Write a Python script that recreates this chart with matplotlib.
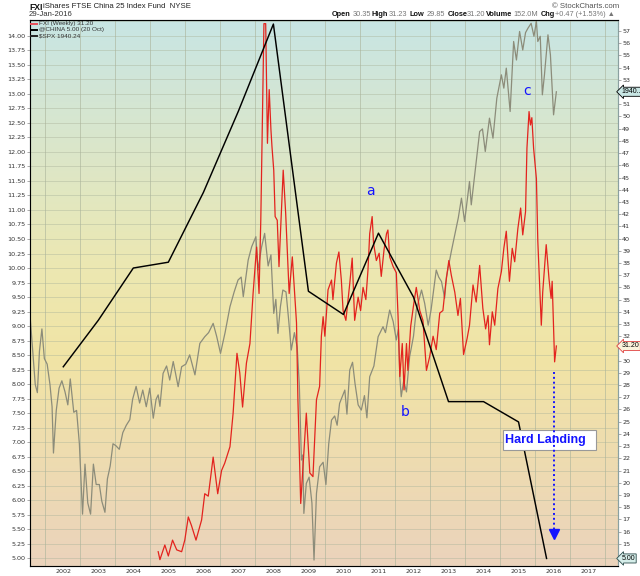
import numpy as np
import matplotlib
matplotlib.use("Agg")
import matplotlib.pyplot as plt
from matplotlib.lines import Line2D
from matplotlib.patches import Rectangle

# @CHINA GDP growth (left axis), annual points + last reading (20 Oct 2015)
china_t = [2002.0, 2003.0, 2004.0, 2005.0, 2006.0, 2007.0, 2008.0, 2009.0,
           2010.0, 2011.0, 2012.0, 2013.0, 2014.0, 2015.0, 2015.8]
china_v = [8.3, 9.1, 10.0, 10.1, 11.3, 12.7, 14.2, 9.6,
           9.2, 10.6, 9.5, 7.7, 7.7, 7.35, 5.0]

# FXI weekly (right axis)
fxi_t = [2004.71, 2004.76, 2004.90, 2005.00, 2005.12, 2005.24, 2005.38, 2005.47, 2005.57, 2005.66,
         2005.79, 2005.95, 2006.04, 2006.14, 2006.28, 2006.41, 2006.52, 2006.61, 2006.76, 2006.85,
         2006.96, 2007.04, 2007.12, 2007.23, 2007.33, 2007.42, 2007.52, 2007.59, 2007.64, 2007.73,
         2007.78, 2007.83, 2007.88, 2007.93, 2007.96, 2008.01, 2008.05, 2008.11, 2008.16, 2008.28,
         2008.35, 2008.45, 2008.54, 2008.66, 2008.70, 2008.78, 2008.85, 2008.94, 2009.04, 2009.13,
         2009.23, 2009.32, 2009.37, 2009.42, 2009.47, 2009.56, 2009.66, 2009.70, 2009.80, 2009.87,
         2009.94, 2009.99, 2010.07, 2010.18, 2010.25, 2010.32, 2010.42, 2010.49, 2010.56, 2010.64,
         2010.70, 2010.75, 2010.82, 2010.86, 2010.94, 2011.02, 2011.08, 2011.16, 2011.23, 2011.27,
         2011.32, 2011.42, 2011.51, 2011.56, 2011.61, 2011.68, 2011.73, 2011.80, 2011.84, 2011.92,
         2012.01, 2012.08, 2012.18, 2012.27, 2012.37, 2012.46, 2012.56, 2012.65, 2012.75, 2012.84,
         2012.92, 2013.01, 2013.08, 2013.18, 2013.27, 2013.34, 2013.43, 2013.53, 2013.60, 2013.70,
         2013.79, 2013.89, 2013.98, 2014.06, 2014.13, 2014.17, 2014.25, 2014.32, 2014.41, 2014.51,
         2014.58, 2014.65, 2014.74, 2014.82, 2014.89, 2014.98, 2015.06, 2015.12, 2015.20, 2015.24,
         2015.30, 2015.34, 2015.38, 2015.43, 2015.51, 2015.55, 2015.65, 2015.69, 2015.79, 2015.87,
         2015.93, 2015.96, 2016.03, 2016.08]
fxi_v = [14.35, 13.7, 14.9, 14.0, 15.3, 14.5, 14.35, 15.3, 17.2, 16.5,
         15.3, 16.95, 19.1, 18.9, 22.1, 19.1, 21.0, 21.6, 22.95, 25.7,
         30.6, 29.0, 26.2, 29.8, 31.4, 35.5, 39.3, 35.5, 41.5, 57.6,
         57.6, 47.8, 52.2, 48.9, 47.5, 45.6, 41.8, 41.5, 37.7, 45.6,
         42.1, 35.5, 38.5, 33.1, 26.8, 18.3, 21.6, 25.7, 20.8, 20.5,
         26.8, 27.9, 32.0, 33.6, 32.0, 35.8, 36.6, 35.0, 38.0, 38.9,
         36.6, 34.1, 33.3, 36.3, 38.4, 33.3, 35.2, 34.1, 36.0, 35.0,
         37.4, 40.4, 41.8, 39.6, 38.2, 38.8, 36.9, 39.1, 40.4, 40.7,
         38.5, 37.7, 37.2, 33.6, 28.7, 31.4, 27.6, 31.4, 29.2, 32.8,
         34.7, 36.0, 34.1, 33.3, 29.2, 30.3, 32.0, 30.9, 33.9, 34.1,
         36.3, 38.2, 37.0, 35.6, 33.7, 35.1, 30.5, 31.8, 32.9, 36.2,
         34.8, 37.8, 34.3, 32.6, 33.7, 31.3, 34.0, 32.9, 35.9, 37.3,
         39.2, 40.6, 36.5, 39.2, 38.1, 40.8, 42.5, 40.3, 42.2, 47.4,
         50.4, 49.3, 49.9, 47.4, 44.9, 39.8, 32.9, 35.6, 39.5, 36.7,
         35.1, 36.5, 29.9, 31.2]

# $SPX (own hidden scale)
spx_t = [2001.05, 2001.12, 2001.20, 2001.26, 2001.32, 2001.39, 2001.46, 2001.54, 2001.62, 2001.68, 2001.72, 2001.80, 2001.88, 2001.96,
         2002.05, 2002.13, 2002.20, 2002.30, 2002.38, 2002.46, 2002.55, 2002.62, 2002.70, 2002.78, 2002.86, 2002.94,
         2003.03, 2003.10, 2003.19, 2003.26, 2003.34, 2003.42, 2003.50, 2003.60, 2003.70, 2003.80, 2003.90, 2003.98,
         2004.08, 2004.18, 2004.27, 2004.37, 2004.47, 2004.57, 2004.65, 2004.71, 2004.76, 2004.85, 2004.95,
         2005.04, 2005.14, 2005.28, 2005.38, 2005.50, 2005.61, 2005.76, 2005.90,
         2006.04, 2006.15, 2006.28, 2006.38, 2006.49, 2006.62, 2006.76, 2006.88, 2006.99,
         2007.08, 2007.14, 2007.28, 2007.38, 2007.50, 2007.56, 2007.66, 2007.75, 2007.85, 2007.93,
         2008.01, 2008.07, 2008.13, 2008.20, 2008.27, 2008.36, 2008.44, 2008.51, 2008.60, 2008.68, 2008.74, 2008.80, 2008.84, 2008.87, 2008.94,
         2009.02, 2009.10, 2009.16, 2009.23, 2009.32, 2009.42, 2009.50, 2009.58, 2009.66, 2009.75, 2009.82, 2009.89,
         2010.04, 2010.10, 2010.18, 2010.26, 2010.33, 2010.42, 2010.51, 2010.60, 2010.67, 2010.75, 2010.87, 2010.99,
         2011.13, 2011.20, 2011.32, 2011.42, 2011.51, 2011.57, 2011.61, 2011.65, 2011.72, 2011.80, 2011.89,
         2012.00, 2012.08, 2012.23, 2012.32, 2012.42, 2012.50, 2012.65, 2012.72, 2012.80, 2012.89, 2012.94,
         2013.02, 2013.08, 2013.18, 2013.28, 2013.37, 2013.46, 2013.60, 2013.65, 2013.79, 2013.89, 2013.97,
         2014.05, 2014.17, 2014.27, 2014.38, 2014.51, 2014.58, 2014.65, 2014.76, 2014.86, 2014.94,
         2015.03, 2015.12, 2015.20, 2015.27, 2015.36, 2015.44, 2015.51, 2015.55, 2015.62, 2015.68, 2015.74, 2015.84, 2015.91, 2016.00, 2016.08]
spx_v = [1338, 1250, 1150, 1128, 1240, 1300, 1220, 1205, 1150, 1090, 965, 1080, 1140, 1160,
         1130, 1095, 1165, 1075, 1080, 990, 800, 935, 830, 800, 935, 880,
         880, 835, 805, 895, 930, 990, 985, 975, 1020, 1040, 1055, 1110,
         1145, 1100, 1135, 1090, 1140, 1059, 1110, 1122, 1091, 1180, 1200,
         1162, 1212, 1144, 1198, 1205, 1230, 1176, 1261,
         1279, 1290, 1315, 1280, 1234, 1290, 1360, 1400, 1432,
         1440, 1387, 1486, 1522, 1549, 1459, 1520, 1558, 1470, 1500,
         1342, 1380, 1288, 1360, 1405, 1400, 1320, 1243, 1290, 1250, 1150, 946, 960, 802, 883,
         900, 830, 676, 856, 928, 940, 880, 990, 1054, 1065, 1040, 1099,
         1135, 1070, 1189, 1210, 1153, 1095, 1081, 1120, 1060, 1171, 1200, 1279,
         1306, 1290, 1351, 1320, 1270, 1300, 1171, 1117, 1160, 1130, 1225,
         1280, 1351, 1405, 1369, 1310, 1350, 1459, 1440, 1428, 1383, 1440,
         1480, 1509, 1554, 1600, 1653, 1590, 1698, 1635, 1752, 1833, 1840,
         1779, 1869, 1815, 1923, 1986, 1950, 2004, 1887, 2076, 2026,
         2103, 2053, 2100, 2112, 2125, 2090, 2130, 2076, 2090, 1932, 1986, 2094, 2040, 1878, 1940.24]

years = list(range(2002, 2018))
left_ticks = np.arange(5.0, 14.01, 0.25)
right_ticks = list(range(14, 58))
hidden_right = [14, 31, 52]  # covered by the value tags

W, H = 640, 576


def fx(x):
    return x / W


def fy(y):
    return 1 - y / H


fig = plt.figure(figsize=(6.4, 5.76), dpi=100)
fig.patch.set_facecolor("white")
ax = fig.add_axes([fx(30), fy(566), fx(618) - fx(30), fy(20) - fy(566)])
ax.set_xlim(2001.05, 2017.84)
ax.set_ylim(4.87, 14.27)

# background gradient
stops = [(0.0, (200, 229, 228)), (0.45, (236, 232, 178)), (0.62, (241, 228, 165)), (1.0, (235, 211, 188))]
n = 300
pos = np.linspace(0, 1, n)
grad = np.zeros((n, 1, 3))
for c in range(3):
    grad[:, 0, c] = np.interp(pos, [s[0] for s in stops], [s[1][c] / 255 for s in stops])
ax.imshow(grad, extent=[2001.05, 2017.84, 4.87, 14.27], aspect="auto", origin="upper", zorder=0)

# grid
ax.set_yticks(left_ticks)
ax.set_yticklabels([f"{v:.2f}" for v in left_ticks], fontsize=4.6, color="#333333")
ax.set_xticks(years)
ax.set_xticklabels([str(y) for y in years], fontsize=4.6, color="#333333")
ax.tick_params(axis="x", which="both", length=0, pad=2)
ax.tick_params(axis="y", length=2, pad=1, width=0.5, color="#888888")
for v in np.arange(5.0, 14.3, 0.25):
    ax.axhline(v, color="#aab39a", lw=0.5, alpha=0.6, zorder=1)
for x in [y + 0.47 for y in range(2001, 2018)]:
    ax.axvline(x, color="#aab39a", lw=0.6, alpha=0.7, zorder=1)
for s in ax.spines.values():
    s.set_color("#8aa0a0")
    s.set_linewidth(0.8)

ax3 = ax.twinx()
ax3.set_ylim(660, 2134)
ax3.axis("off")
ax3.plot(spx_t, spx_v, color="#8c8c7a", lw=0.9, zorder=3)

ax2 = ax.twinx()
ax2.set_ylim(13.18, 57.9)
ax2.set_yticks(right_ticks)
ax2.set_yticklabels(["" if v in hidden_right else str(v) for v in right_ticks], fontsize=4.6, color="#333333")
ax2.tick_params(axis="y", length=2, pad=1, width=0.5, color="#888888")
ax2.spines["right"].set_color("#8aa0a0")
ax2.spines["right"].set_linestyle(":")
ax2.plot(fxi_t, fxi_v, color="#e3231e", lw=0.9, zorder=4)

ax4 = ax.twinx()
ax4.set_ylim(4.87, 14.27)
ax4.axis("off")
ax4.plot(china_t, china_v, color="black", lw=1.05, zorder=5)

# value tags on right edge
tag_font = ["Liberation Sans", "DejaVu Sans"]
ax4.text(1.006, 5.0, "5.00", transform=ax4.get_yaxis_transform(), fontsize=5, va="center", ha="left",
         family=tag_font, color="#000000",
         bbox=dict(boxstyle="larrow,pad=0.15", fc="#d6eeea", ec="#2a4a4a", lw=0.6), clip_on=False)
ax4.text(1.006, 31.2, "31.20", transform=ax2.get_yaxis_transform(), fontsize=5, va="center", ha="left",
         family=tag_font, color="#000000",
         bbox=dict(boxstyle="larrow,pad=0.15", fc="#fbf3dc", ec="#e04040", lw=0.6), clip_on=False)
ax4.text(1.006, 1940.24, "1940..", transform=ax3.get_yaxis_transform(), fontsize=5, va="center", ha="left",
         family=tag_font, color="#000000",
         bbox=dict(boxstyle="larrow,pad=0.15", fc="#c8e6e4", ec="#000000", lw=0.6), clip_on=False)

# annotations
blue = "#1414ff"
ax4.text(2010.78, 11.33, "a", color=blue, fontsize=10, ha="center", va="center", zorder=6)
ax4.text(2011.77, 7.52, "b", color=blue, fontsize=10, ha="center", va="center", zorder=6)
ax4.text(2015.24, 13.04, "c", color=blue, fontsize=10, ha="center", va="center", zorder=6)
ax4.add_patch(Rectangle((2014.545, 6.869), 2.68, 0.344, facecolor="white", edgecolor="#999999", lw=0.8, zorder=6))
ax4.text(2014.61, 7.04, "Hard Landing", color=blue, fontsize=9, fontweight="bold",
         family=["Liberation Sans", "DejaVu Sans"], ha="left", va="center", zorder=7)
ax4.plot([2016.014, 2016.014], [8.21, 5.45], color=blue, lw=1.4, ls=(0, (1, 1.5)), zorder=7)
ax4.plot([2016.014], [5.42], marker="v", markersize=7, color=blue, zorder=7)

# header
hfont = ["Liberation Sans", "DejaVu Sans"]
fig.text(fx(29), fy(7), "FXI", fontsize=6.2, fontweight="bold", family=hfont, va="center", ha="left", color="#111111")
fig.text(fx(43), fy(7), "iShares FTSE China 25 Index Fund  NYSE", fontsize=5.6, family=hfont,
         va="center", ha="left", color="#222222")
fig.text(fx(29), fy(15), "29-Jan-2016", fontsize=5.6, family=hfont, va="center", ha="left", color="#333333")
fig.text(fx(619), fy(6), "© StockCharts.com", fontsize=5.6, family=hfont, va="center", ha="right", color="#555555")
hdr = [(332, "Open", True), (353, "30.35", False), (371, "High", True), (389, "31.23", False),
       (410, "Low", True), (427, "29.85", False), (448, "Close", True), (467, "31.20", False),
       (486, "Volume", True), (513, "152.0M", False), (541, "Chg", True), (555, "+0.47 (+1.53%) ▲", False)]
for x, s, b in hdr:
    fig.text(fx(x), fy(15), s, fontsize=5.3, fontweight="bold" if b else "normal", family=hfont,
             va="center", ha="left", color="#111111" if b else "#777777")

# legend
leg = [(24, "#e8505a", "FXI (Weekly) 31.20"), (30, "#000000", "@CHINA 5.00 (20 Oct)"), (36, "#222222", "$SPX 1940.24")]
for y, c, s in leg:
    fig.add_artist(Line2D([fx(31), fx(37)], [fy(y), fy(y)], color=c, lw=1.4))
    fig.text(fx(39), fy(y), s, fontsize=4.6, family=hfont, va="center", ha="left", color="#333333")

fig.savefig("out.png", dpi=100)
